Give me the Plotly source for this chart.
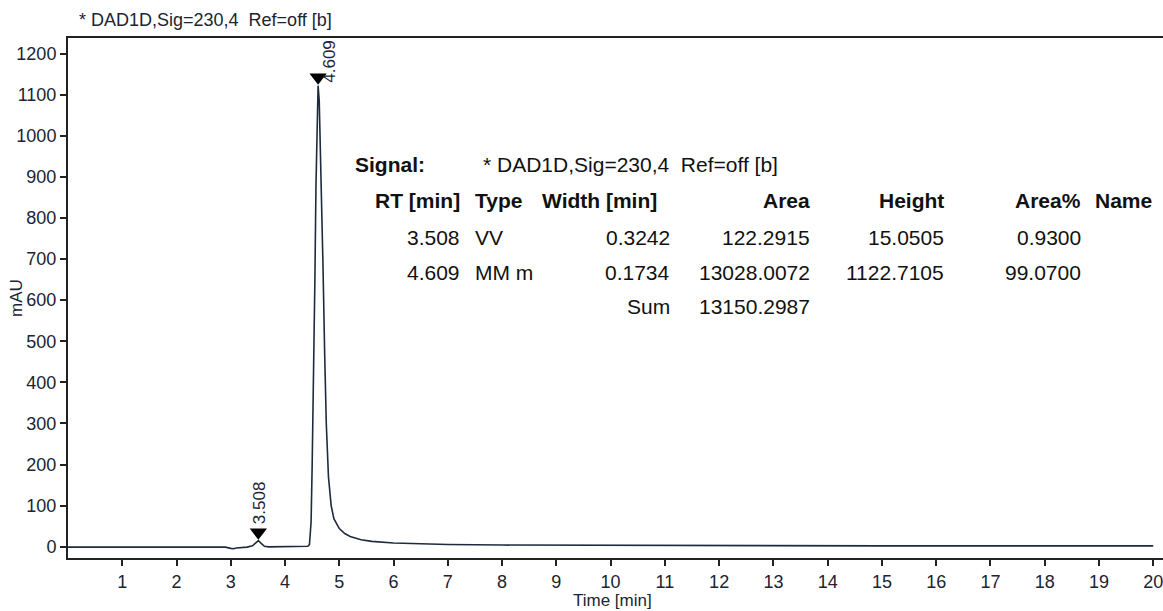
import plotly.graph_objects as go

# ---- data ----
time_min = [0.0, 0.5, 1.0, 1.5, 2.0, 2.5, 2.9, 3.0, 3.05, 3.1, 3.2, 3.3, 3.4, 3.45, 3.508, 3.56,
            3.62, 3.7, 4.0, 4.3, 4.42, 4.45, 4.48, 4.50, 4.53, 4.55, 4.57, 4.59, 4.609, 4.63,
            4.66, 4.70, 4.73, 4.76, 4.80, 4.85, 4.90, 5.0, 5.1, 5.2, 5.4, 5.6, 6.0, 6.5, 7.0,
            8.0, 9.0, 10.0, 12.0, 15.0, 18.0, 20.0]
signal_mau = [-1, -1.5, -1.5, -1, -1, -0.5, -1, -4, -5, -3, -2, -1, 2, 8, 15, 8,
              1, -0.5, -0.5, 0, 1, 5, 60, 200, 420, 650, 880, 1060, 1122, 1085,
              930, 680, 470, 300, 170, 100, 68, 44, 32, 25, 17, 13, 9, 7, 5.5,
              4, 3.5, 3, 2.5, 2, 2, 2]

peak_rt = [3.508, 4.609]
peak_type = ["VV", "MM m"]
peak_width = ["0.3242", "0.1734"]
peak_area = ["122.2915", "13028.0072"]
peak_height = [15.0505, 1122.7105]
peak_height_txt = ["15.0505", "1122.7105"]
peak_area_pct = ["0.9300", "99.0700"]
area_sum = "13150.2987"
signal_name = "* DAD1D,Sig=230,4\u00a0\u00a0Ref=off [b]"

x_ticks = list(range(1, 21))
y_ticks = list(range(0, 1300, 100))

# ---- layout helpers (pixel -> paper) ----
L, R, T, B = 68, 0, 38, 53
W, H = 1163, 611
PW, PH = W - L - R, H - T - B

def px(x):
    return (x - L) / PW

def py(y):
    return (H - B - y) / PH

ink = "#1b2433"
line_col = "#1f2b3c"
FONT = "Arial, Liberation Sans, sans-serif"

fig = go.Figure()
fig.add_trace(go.Scatter(x=time_min, y=signal_mau, mode="lines",
                         line=dict(color=line_col, width=1.6), hoverinfo="skip",
                         showlegend=False))
fig.add_trace(go.Scatter(x=peak_rt, y=[h + 20 for h in peak_height], mode="markers",
                         marker=dict(symbol="triangle-down", size=15, color="#000000"),
                         showlegend=False, cliponaxis=False))

ann = []
# peak labels
ann.append(dict(x=peak_rt[0], y=peak_height[0] + 20, xref="x", yref="y", text=f"{peak_rt[0]:.3f}",
                textangle=-90, showarrow=False, yanchor="bottom", xanchor="center",
                yshift=6, xshift=1, font=dict(size=17, color=ink, family=FONT)))
ann.append(dict(x=peak_rt[1], y=peak_height[1] + 20, xref="x", yref="y", text=f"{peak_rt[1]:.3f}",
                textangle=-90, showarrow=False, yanchor="bottom", xanchor="center",
                yshift=-8, xshift=12, font=dict(size=17, color=ink, family=FONT)))

# header
ann.append(dict(x=px(77), y=py(20), xref="paper", yref="paper", text=signal_name,
                showarrow=False, xanchor="left", yanchor="middle",
                font=dict(size=18, color=ink, family=FONT)))
# axis titles
ann.append(dict(x=px(16), y=py(298), xref="paper", yref="paper", text="mAU", textangle=-90,
                showarrow=False, xanchor="center", yanchor="middle",
                font=dict(size=17, color=ink, family=FONT)))
ann.append(dict(x=px(612), y=py(600), xref="paper", yref="paper", text="Time [min]",
                showarrow=False, xanchor="center", yanchor="middle",
                font=dict(size=17, color=ink, family=FONT)))

tf = dict(size=21, color="#111111", family=FONT)

def t(x, y, s, anchor, bold=False):
    ann.append(dict(x=px(x), y=py(y), xref="paper", yref="paper",
                    text=f"<b>{s}</b>" if bold else s, showarrow=False,
                    xanchor=anchor, yanchor="middle", font=tf))

t(353, 164, "Signal:", "left", True)
t(481, 164, signal_name, "left")
rows_y = [200, 237, 272, 307]
t(462, rows_y[0], "RT [min]", "right", True)
t(473, rows_y[0], "Type", "left", True)
t(659, rows_y[0], "Width [min]", "right", True)
t(812, rows_y[0], "Area", "right", True)
t(946, rows_y[0], "Height", "right", True)
t(1083, rows_y[0], "Area%", "right", True)
t(1093, rows_y[0], "Name", "left", True)
for i in range(2):
    yy = rows_y[i + 1]
    t(462, yy, f"{peak_rt[i]:.3f}", "right")
    t(473, yy, peak_type[i], "left")
    t(672, yy, peak_width[i], "right")
    t(812, yy, peak_area[i], "right")
    t(946, yy, peak_height_txt[i], "right")
    t(1083, yy, peak_area_pct[i], "right")
t(672, rows_y[3], "Sum", "right")
t(812, rows_y[3], area_sum, "right")

fig.update_layout(
    width=W, height=H,
    margin=dict(l=L, r=R, t=T, b=B),
    paper_bgcolor="white", plot_bgcolor="white",
    annotations=ann,
    font=dict(family=FONT, color=ink),
    xaxis=dict(range=[0.0, 20.18], tickvals=x_ticks, ticks="outside", ticklen=6,
               tickwidth=2, tickcolor="#222222", showgrid=False, zeroline=False,
               showline=True, linecolor="#222222", linewidth=2, mirror=True,
               ticklabeloverflow="allow", ticklabelstandoff=0,
               tickfont=dict(size=18, color=ink)),
    yaxis=dict(range=[-27.5, 1238], tickvals=y_ticks, ticks="outside", ticklen=6,
               tickwidth=2, tickcolor="#222222", showgrid=False, zeroline=False,
               showline=True, linecolor="#222222", linewidth=2,
               tickfont=dict(size=18, color=ink)),
)

fig.write_html("out.html")
